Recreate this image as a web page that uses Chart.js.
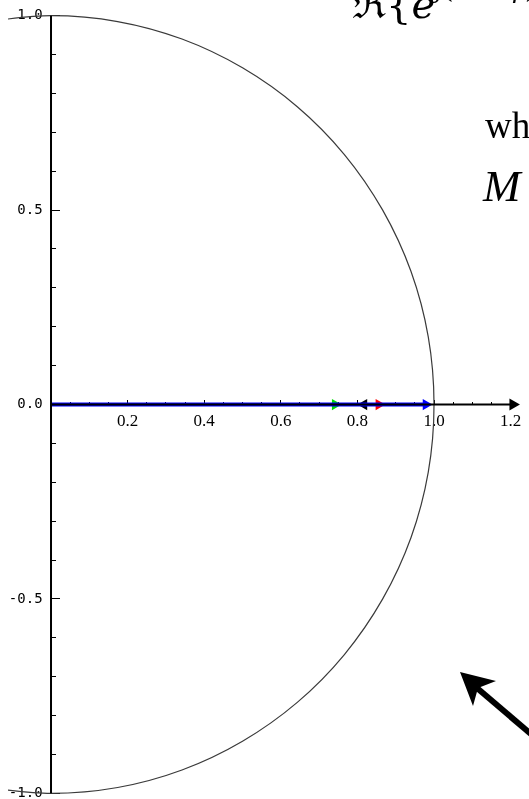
<!DOCTYPE html>
<html>
<head>
<meta charset="utf-8">
<script src="https://cdn.jsdelivr.net/npm/chart.js@4.4.0/dist/chart.umd.min.js"></script>
<style>
  html, body { margin: 0; padding: 0; background: #fff; overflow: hidden; }
  #wrap { position: relative; width: 529px; height: 799px; overflow: hidden; }
  #plot { position: absolute; left: 0; top: 0; }
  .note { position: absolute; white-space: nowrap; color: #000; line-height: 1; }
  #eq { left: 352px; top: -16px; font-family: "DejaVu Serif", serif; font-size: 40px; }
  #eq sup { font-size: 26px; position: relative; top: -20px; vertical-align: baseline; }
  #where { left: 485px; top: 107px; font-family: "Liberation Serif", serif; font-size: 37px; }
  #m { left: 483px; top: 164px; font-family: "Liberation Serif", serif; font-style: italic; font-size: 45px; }
  #pointer { position: absolute; left: 0; top: 0; }
</style>
</head>
<body>
<div id="wrap">
  <canvas id="plot" width="529" height="799"></canvas>
  <div class="note" id="eq">ℜ{<i>e</i><sup><i>j</i>(<i>ω</i><i>t</i>+<i>φ</i>)</sup>}</div>
  <div class="note" id="where">where</div>
  <div class="note" id="m">M</div>
  <svg id="pointer" width="529" height="799">
    <line x1="477" y1="688" x2="545" y2="746" stroke="#000" stroke-width="6"/>
    <polygon points="460,672 496,681 478,688 473,706" fill="#000"/>
  </svg>
</div>
<script>
// unit half circle
const circleX = [-0.174, 0, 0.174, 0.342, 0.5, 0.643, 0.766, 0.866, 0.94, 0.985, 1,
                 0.985, 0.94, 0.866, 0.766, 0.643, 0.5, 0.342, 0.174, 0, -0.174];
const circleY = [0.985, 1, 0.985, 0.94, 0.866, 0.766, 0.643, 0.5, 0.342, 0.174, 0,
                 -0.174, -0.342, -0.5, -0.643, -0.766, -0.866, -0.94, -0.985, -1, -0.985];

// vectors along the real axis (arrow heads)
const greenEnd = 0.742;
const blackEnd = 0.817;
const redEnd = 0.856;
const blueEnd = 0.979;

// axes
const xAxisEnd = 1.206;
const yAxisSpan = [-1, 1];

// tick labels
const xMajorTicks = [0.2, 0.4, 0.6, 0.8, 1.0, 1.2];
const yMajorTicks = [-1.0, -0.5, 0.0, 0.5, 1.0];

const range = (a, b, step) => {
  const out = [];
  for (let v = a; v <= b + 1e-9; v += step) out.push(Math.round(v * 1000) / 1000);
  return out;
};
const xMinorTicks = range(0.05, 1.15, 0.05).filter(v => !xMajorTicks.includes(v));
const yMinorTicks = range(-0.9, 0.9, 0.1).filter(v => !yMajorTicks.includes(v));

// visible window of the plot
const X_MIN = -0.1123, X_MAX = 1.248;
const Y_MIN = -1.0038, Y_MAX = 1.0296;

const toPoints = (xs, ys) => xs.map((x, i) => ({ x, y: ys[i] }));
const arrow = (end, color, dir, order, width) => ({
  data: [{ x: 0, y: 0 }, { x: end, y: 0 }],
  showLine: true,
  borderColor: color,
  backgroundColor: color,
  borderWidth: width,
  pointRadius: [0, 6.5],
  pointStyle: "triangle",
  rotation: dir,
  pointBorderWidth: 0,
  clip: false,
  order
});

const tickScale = (axis, ticks, len, pos) => ({
  type: "linear",
  axis,
  min: axis === "x" ? X_MIN : Y_MIN,
  max: axis === "x" ? X_MAX : Y_MAX,
  position: pos,
  afterBuildTicks: s => { s.ticks = ticks.map(v => ({ value: v })); },
  grid: { drawOnChartArea: false, drawTicks: true, tickLength: len, color: "#000", lineWidth: 1 },
  border: { display: false },
  ticks: { display: false, autoSkip: false }
});

const xText = tickScale("x", xMajorTicks, 0, { y: 0 });
xText.grid = { display: false, drawTicks: false };
xText.ticks = {
  display: true, autoSkip: false, maxRotation: 0, minRotation: 0, padding: 7,
  color: "#000", font: { family: "Liberation Serif", size: 17 },
  callback: v => v.toFixed(1)
};

const yMajor = tickScale("y", yMajorTicks, -9, { x: 0 });
yMajor.ticks = {
  display: true, autoSkip: false, padding: 0,
  color: "#000", font: { family: "DejaVu Sans Mono", size: 14, lineHeight: 0.6 },
  callback: v => v.toFixed(1) + " "
};

new Chart(document.getElementById("plot"), {
  type: "scatter",
  data: {
    datasets: [
      {
        data: [{ x: 0, y: 0 }, { x: xAxisEnd, y: 0 }],
        showLine: true, borderColor: "#000", backgroundColor: "#000", borderWidth: 2,
        pointRadius: [0, 7], pointStyle: "triangle", rotation: 90, pointBorderWidth: 0,
        clip: false, order: 0
      },
      {
        data: [{ x: 0, y: yAxisSpan[0] }, { x: 0, y: yAxisSpan[1] }],
        showLine: true, borderColor: "#000", borderWidth: 2, pointRadius: 0,
        clip: false, order: 0
      },
      arrow(blueEnd, "#0000ff", 90, 1, 4),
      arrow(redEnd, "#ff0000", 90, 2, 3),
      arrow(blackEnd, "#000000", -90, 2, 3),
      arrow(greenEnd, "#00dd00", 90, 2, 3),
      {
        data: toPoints(circleX, circleY),
        showLine: true, borderColor: "#3a3a3a", borderWidth: 1.2, pointRadius: 0,
        tension: 0.33, clip: { left: 0, top: false, right: false, bottom: false }, order: 3
      }
    ]
  },
  options: {
    responsive: false,
    animation: false,
    events: [],
    layout: { autoPadding: false, padding: { left: 8, right: 0, top: 4, bottom: 4 } },
    plugins: { legend: { display: false }, tooltip: { enabled: false } },
    scales: {
      x: tickScale("x", xMinorTicks, -3, { y: 0 }),
      xMajor: tickScale("x", xMajorTicks, -5, { y: 0 }),
      xText: xText,
      y: tickScale("y", yMinorTicks, -5, { x: 0 }),
      yMajor: yMajor
    }
  }
});
</script>
</body>
</html>
